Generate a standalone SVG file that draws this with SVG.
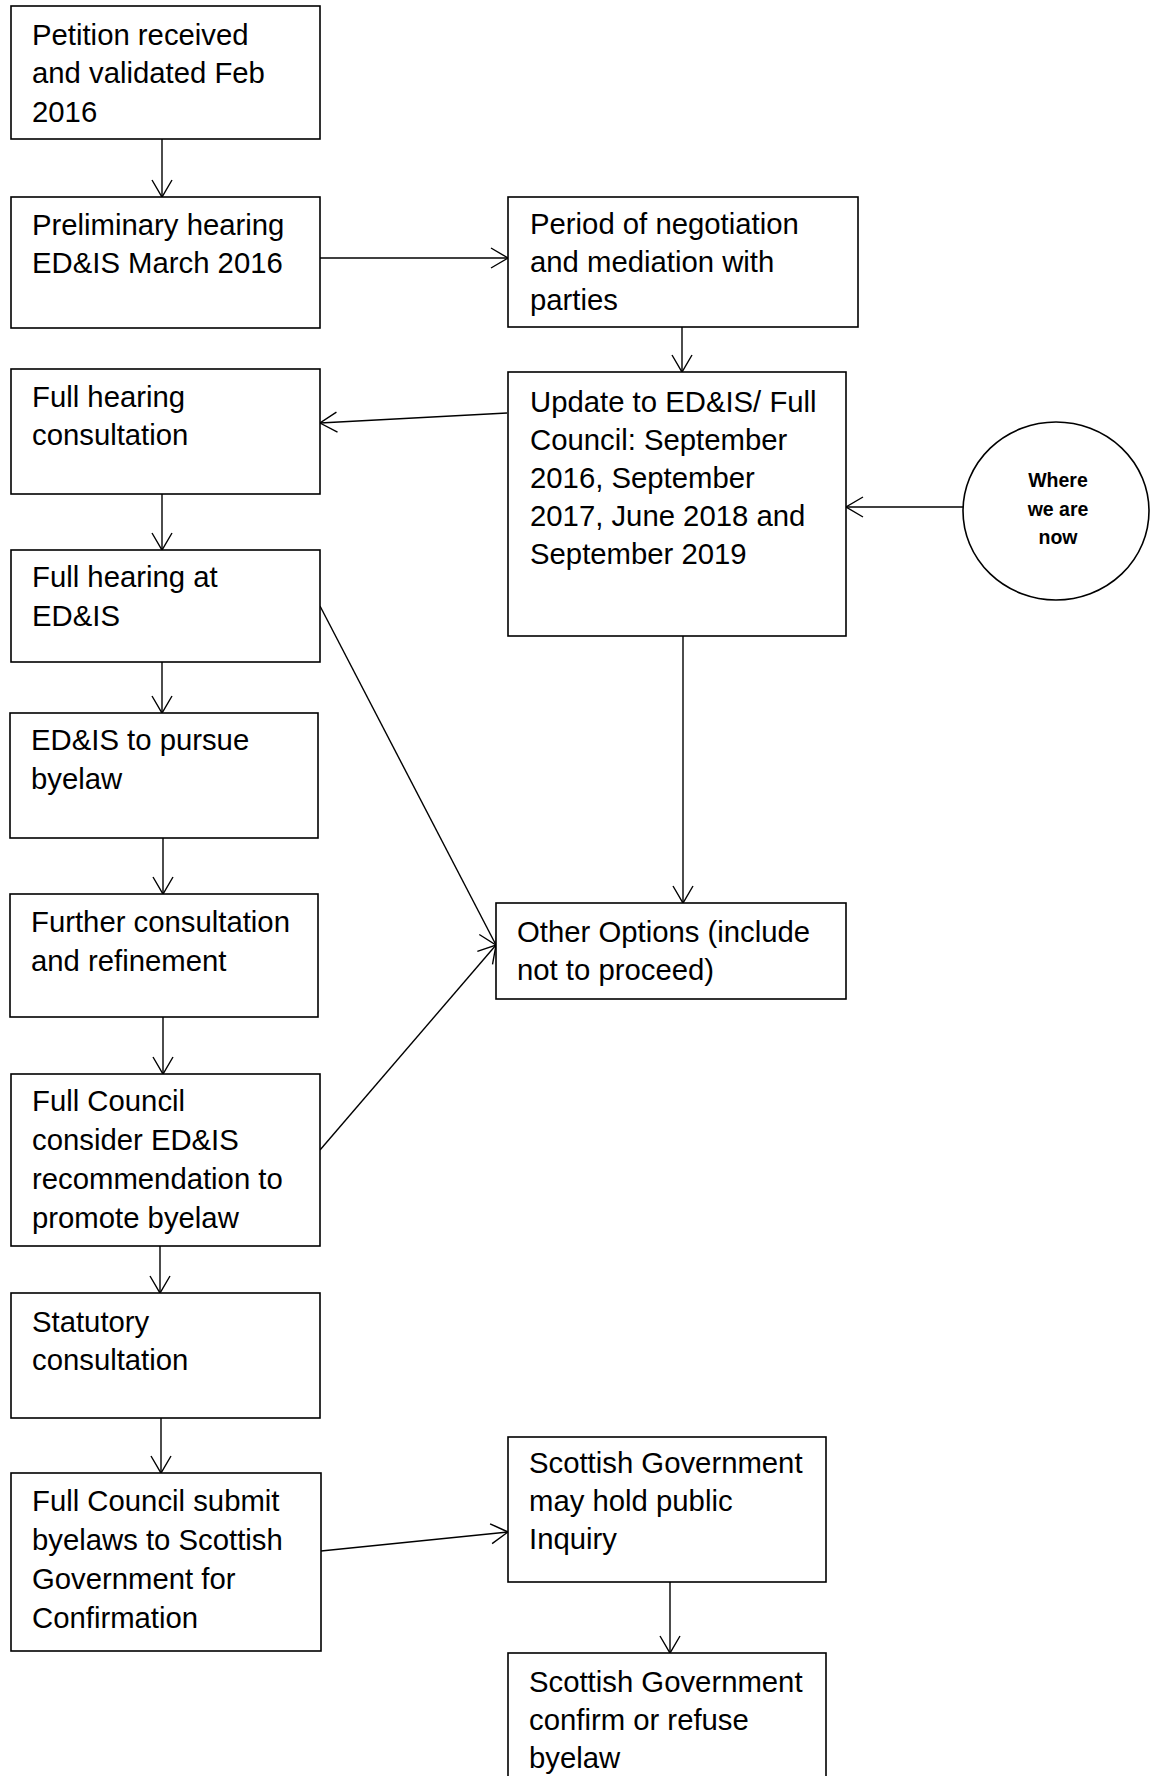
<svg xmlns="http://www.w3.org/2000/svg" width="1162" height="1776" viewBox="0 0 1162 1776">
<defs>
<style>
.box{fill:#fff;stroke:#000;stroke-width:1.6}
.t{font-family:"Liberation Sans",Arial,sans-serif;font-size:29.3px;fill:#000}
.b{font-family:"Liberation Sans",Arial,sans-serif;font-size:19.5px;font-weight:bold;fill:#000;text-anchor:middle}
.c{fill:none;stroke:#000;stroke-width:1.4;marker-end:url(#ah)}
</style>
<marker id="ah" markerUnits="userSpaceOnUse" markerWidth="40" markerHeight="40" refX="0" refY="0" orient="auto" overflow="visible">
<path d="M-17,-10 L0,0 L-17,10" fill="none" stroke="#000" stroke-width="1.4"/>
</marker>
</defs>
<rect width="1162" height="1776" fill="#fff"/>
<g id="connectors">
<line class="c" x1="162" y1="139" x2="162" y2="197"/>
<line class="c" x1="320" y1="258" x2="508" y2="258"/>
<line class="c" x1="682" y1="327" x2="682" y2="372"/>
<line class="c" x1="507" y1="413" x2="320" y2="423"/>
<line class="c" x1="162" y1="494" x2="162" y2="550"/>
<line class="c" x1="963" y1="507" x2="846" y2="507"/>
<line class="c" x1="162" y1="662" x2="162" y2="713"/>
<line class="c" x1="320" y1="606" x2="496" y2="945"/>
<line class="c" x1="683" y1="636" x2="683" y2="903"/>
<line class="c" x1="163" y1="838" x2="163" y2="894"/>
<line class="c" x1="163" y1="1017" x2="163" y2="1074"/>
<line class="c" x1="320" y1="1150" x2="496" y2="945"/>
<line class="c" x1="160" y1="1246" x2="160" y2="1293"/>
<line class="c" x1="161" y1="1418" x2="161" y2="1473"/>
<line class="c" x1="321" y1="1551" x2="508" y2="1532"/>
<line class="c" x1="670" y1="1582" x2="670" y2="1653"/>
</g>
<g id="n-petition">
<rect class="box" x="11" y="6" width="309" height="133"/>
<text class="t" x="32" y="45">Petition received</text>
<text class="t" x="32" y="83">and validated Feb</text>
<text class="t" x="32" y="122">2016</text>
</g>
<g id="n-preliminary">
<rect class="box" x="11" y="197" width="309" height="131"/>
<text class="t" x="32" y="235">Preliminary hearing</text>
<text class="t" x="32" y="273">ED&amp;IS March 2016</text>
</g>
<g id="n-fullhearingconsult">
<rect class="box" x="11" y="369" width="309" height="125"/>
<text class="t" x="32" y="407">Full hearing</text>
<text class="t" x="32" y="445">consultation</text>
</g>
<g id="n-fullhearingat">
<rect class="box" x="11" y="550" width="309" height="112"/>
<text class="t" x="32" y="587">Full hearing at</text>
<text class="t" x="32" y="626">ED&amp;IS</text>
</g>
<g id="n-pursue">
<rect class="box" x="10" y="713" width="308" height="125"/>
<text class="t" x="31" y="750">ED&amp;IS to pursue</text>
<text class="t" x="31" y="789">byelaw</text>
</g>
<g id="n-further">
<rect class="box" x="10" y="894" width="308" height="123"/>
<text class="t" x="31" y="932">Further consultation</text>
<text class="t" x="31" y="971">and refinement</text>
</g>
<g id="n-fullcouncil">
<rect class="box" x="11" y="1074" width="309" height="172"/>
<text class="t" x="32" y="1111">Full Council</text>
<text class="t" x="32" y="1150">consider ED&amp;IS</text>
<text class="t" x="32" y="1189">recommendation to</text>
<text class="t" x="32" y="1228">promote byelaw</text>
</g>
<g id="n-statutory">
<rect class="box" x="11" y="1293" width="309" height="125"/>
<text class="t" x="32" y="1332">Statutory</text>
<text class="t" x="32" y="1370">consultation</text>
</g>
<g id="n-submit">
<rect class="box" x="11" y="1473" width="310" height="178"/>
<text class="t" x="32" y="1511">Full Council submit</text>
<text class="t" x="32" y="1550">byelaws to Scottish</text>
<text class="t" x="32" y="1589">Government for</text>
<text class="t" x="32" y="1628">Confirmation</text>
</g>
<g id="n-period">
<rect class="box" x="508" y="197" width="350" height="130"/>
<text class="t" x="530" y="234">Period of negotiation</text>
<text class="t" x="530" y="272">and mediation with</text>
<text class="t" x="530" y="310">parties</text>
</g>
<g id="n-update">
<rect class="box" x="508" y="372" width="338" height="264"/>
<text class="t" x="530" y="412">Update to ED&amp;IS/ Full</text>
<text class="t" x="530" y="450">Council: September</text>
<text class="t" x="530" y="488">2016, September</text>
<text class="t" x="530" y="526">2017, June 2018 and</text>
<text class="t" x="530" y="564">September 2019</text>
</g>
<g id="n-now">
<ellipse cx="1056" cy="511" rx="93" ry="89" fill="#fff" stroke="#000" stroke-width="1.6"/>
<text class="b" x="1058" y="487">Where</text>
<text class="b" x="1058" y="516">we are</text>
<text class="b" x="1058" y="544">now</text>
</g>
<g id="n-other">
<rect class="box" x="496" y="903" width="350" height="96"/>
<text class="t" x="517" y="942">Other Options (include</text>
<text class="t" x="517" y="980">not to proceed)</text>
</g>
<g id="n-inquiry">
<rect class="box" x="508" y="1437" width="318" height="145"/>
<text class="t" x="529" y="1473">Scottish Government</text>
<text class="t" x="529" y="1511">may hold public</text>
<text class="t" x="529" y="1549">Inquiry</text>
</g>
<g id="n-confirm">
<rect class="box" x="508" y="1653" width="318" height="200"/>
<text class="t" x="529" y="1692">Scottish Government</text>
<text class="t" x="529" y="1730">confirm or refuse</text>
<text class="t" x="529" y="1768">byelaw</text>
</g>
</svg>
